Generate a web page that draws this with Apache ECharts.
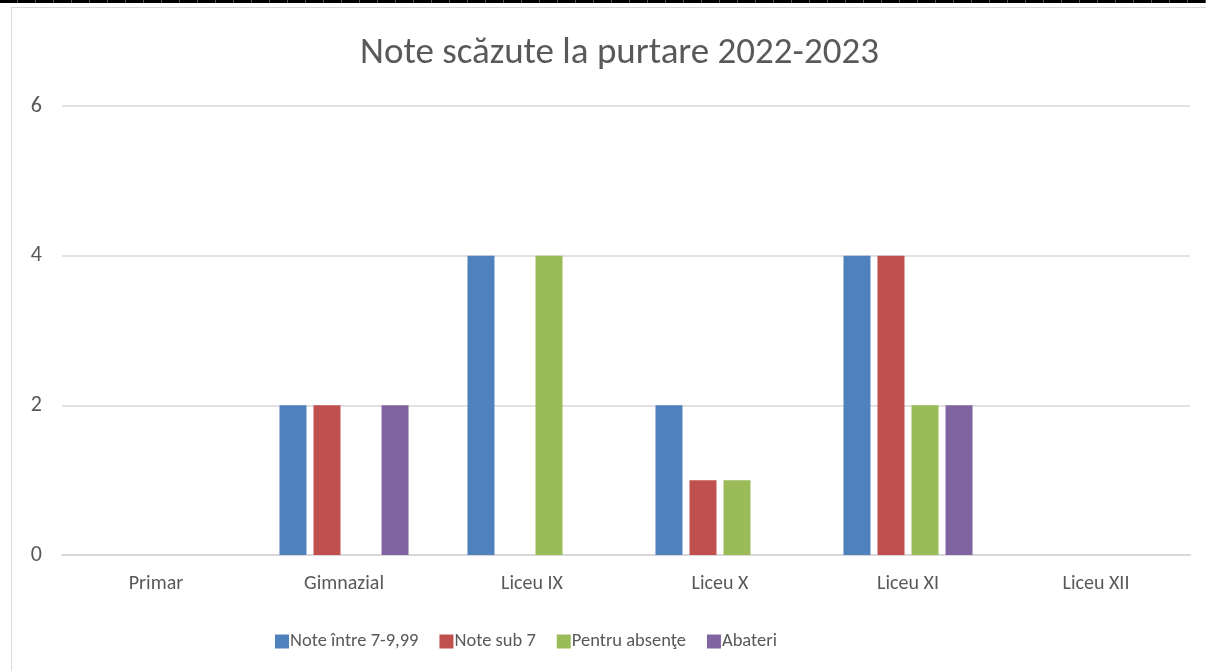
<!DOCTYPE html>
<html>
<head>
<meta charset="utf-8">
<script src="https://cdn.jsdelivr.net/npm/echarts@6/dist/echarts.min.js"></script>
<style>
  html, body { margin: 0; padding: 0; background: #fff; }
  .top-band {
    position: absolute; left: 0; top: 0; width: 1206px; height: 3px;
    background: repeating-linear-gradient(90deg, #000 0, #000 17px, #555 17px, #555 18px);
  }
  .frame {
    position: absolute; left: 11px; top: 7px; width: 1200px; height: 670px;
    border: 1px solid #d9d9d9; box-sizing: border-box;
  }
  #chart { position: absolute; left: 0; top: 0; width: 1206px; height: 671px; }
</style>
</head>
<body>
<div class="top-band"></div>
<div class="frame"></div>
<div id="chart"></div>
<script>
// categories and series values
const categories = ['Primar', 'Gimnazial', 'Liceu IX', 'Liceu X', 'Liceu XI', 'Liceu XII']
const note7to999 = [0, 2, 4, 2, 4, 0]
const noteSub7 = [0, 2, 0, 1, 4, 0]
const absente = [0, 0, 4, 1, 2, 0]
const abateri = [0, 2, 0, 0, 2, 0]
const seriesNames = ['Note între 7-9,99', 'Note sub 7', 'Pentru absenţe', 'Abateri']
const colors = ['#4F81BD', '#C0504D', '#9BBB59', '#8064A2']

const chart = echarts.init(document.getElementById('chart'))

const font = 'Carlito, Calibri, "Open Sans", "Noto Sans", sans-serif'

const makeBar = (name, data, color) => ({
  name,
  type: 'bar',
  data,
  barWidth: 27,
  barGap: '26%',
  itemStyle: { color }
})

const option = {
  animation: false,
  textStyle: { fontFamily: font },
  title: {
    text: 'Note scăzute la purtare 2022-2023',
    left: 355,
    top: 30,
    textStyle: { fontSize: 37, fontWeight: 'normal', color: '#595959', fontFamily: font }
  },
  legend: {
    top: 627,
    left: 270,
    itemWidth: 14,
    itemHeight: 14,
    itemGap: 21,
    icon: 'rect',
    textStyle: { fontSize: 18.5, color: '#595959', fontFamily: font, padding: [0, 0, 0, -4] },
    data: seriesNames
  },
  grid: {
    left: 62,
    right: 16,
    top: 106,
    bottom: 116
  },
  xAxis: {
    type: 'category',
    data: categories,
    axisLine: { lineStyle: { color: '#d9d9d9', width: 2 } },
    axisTick: { show: false },
    axisLabel: { fontSize: 20, color: '#595959', margin: 19 }
  },
  yAxis: {
    type: 'value',
    min: 0,
    max: 6,
    interval: 2,
    axisLine: { show: false },
    axisTick: { show: false },
    splitLine: { lineStyle: { color: '#d9d9d9', width: 1.5 } },
    axisLabel: { fontSize: 22, color: '#595959', margin: 20 }
  },
  series: [
    makeBar(seriesNames[0], note7to999, colors[0]),
    makeBar(seriesNames[1], noteSub7, colors[1]),
    makeBar(seriesNames[2], absente, colors[2]),
    makeBar(seriesNames[3], abateri, colors[3])
  ]
}

chart.setOption(option)
</script>
</body>
</html>
